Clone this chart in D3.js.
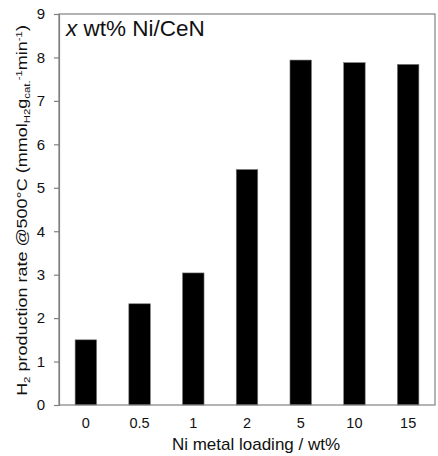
<!DOCTYPE html>
<html><head><meta charset="utf-8">
<script src="https://cdn.jsdelivr.net/npm/d3@7"></script>
<style>body{margin:0;background:#fff;} svg{font-family:"Liberation Sans",Arial,sans-serif;}</style>
</head><body>
<svg id="c" width="438" height="456"></svg>
<script>
const categories = ["0","0.5","1","2","5","10","15"];
const values = [1.5, 2.33, 3.04, 5.42, 7.94, 7.88, 7.84];
const yTicks = [0,1,2,3,4,5,6,7,8,9];

const svg = d3.select("#c");
const m = {l:59, r:3, t:14, b:51};
const W = 438, H = 456;
const x = d3.scaleBand().domain(categories).range([m.l, W-m.r]).paddingInner(0.6).paddingOuter(0.3);
const y = d3.scaleLinear().domain([0,9]).range([H-m.b, m.t]);

// bars
svg.append("g").selectAll("rect").data(values).join("rect")
  .attr("x",(d,i)=>x(categories[i])).attr("width",x.bandwidth())
  .attr("y",d=>y(d)).attr("height",d=>y(0)-y(d))
  .attr("fill","#000").attr("stroke","#777").attr("stroke-width",0.6);

// frame
svg.append("rect").attr("x",m.l).attr("y",m.t).attr("width",W-m.r-m.l).attr("height",H-m.b-m.t)
  .attr("fill","none").attr("stroke","#808080").attr("stroke-width",1.2);

// y axis
const ya = svg.append("g").attr("transform",`translate(${m.l},0)`)
  .call(d3.axisLeft(y).tickValues(yTicks).tickSize(5).tickPadding(9));
ya.select(".domain").attr("stroke","#808080").attr("stroke-width",1.2);
ya.selectAll(".tick line").attr("stroke","#808080").attr("stroke-width",1.2);
ya.selectAll("text").attr("font-size",15).attr("fill","#111").style("font-family","Liberation Sans, Arial, sans-serif");

// x axis
const xa = svg.append("g").attr("transform",`translate(0,${H-m.b})`)
  .call(d3.axisBottom(x).tickSize(0).tickPadding(13));
xa.select(".domain").remove();
xa.selectAll("text").attr("font-size",14.5).attr("fill","#111").style("font-family","Liberation Sans, Arial, sans-serif");

// x title
svg.append("text").attr("x",256).attr("y",450).attr("text-anchor","middle")
  .attr("font-size",17).attr("fill","#111").text("Ni metal loading / wt%");

// y title
const yt = svg.append("text").attr("transform",`translate(27,210.5) rotate(-90) scale(1.2,1)`)
  .attr("text-anchor","middle").attr("font-size",15).attr("fill","#111");
yt.append("tspan").text("H");
yt.append("tspan").attr("font-size",9.5).attr("dy",3).text("2");
yt.append("tspan").attr("dy",-3).text(" production rate @500°C (mmol");
yt.append("tspan").attr("font-size",9.5).attr("dy",3).text("H2");
yt.append("tspan").attr("dy",-3).text("g");
yt.append("tspan").attr("font-size",9.5).attr("dy",3).text("cat.");
yt.append("tspan").attr("font-size",9.5).attr("dy",-8.5).text("-1");
yt.append("tspan").attr("dy",5.5).text("min");
yt.append("tspan").attr("font-size",9.5).attr("dy",-5.5).text("-1");
yt.append("tspan").attr("dy",5.5).text(")");

// title
const tt = svg.append("text").attr("x",66).attr("y",36).attr("font-size",22.5).attr("fill","#111");
tt.append("tspan").attr("font-style","italic").text("x");
tt.append("tspan").text(" wt% Ni/CeN");
</script>
</body></html>
